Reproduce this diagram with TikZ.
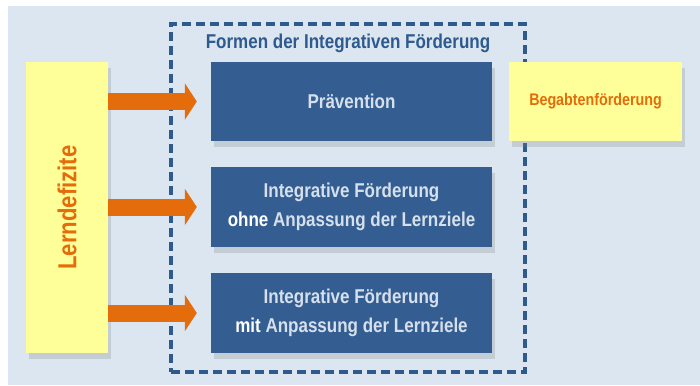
\documentclass[tikz,border=0pt]{standalone}
\usepackage{fontspec}
\setmainfont{Liberation Sans}[FakeStretch=0.85]
\usetikzlibrary{arrows.meta,shadows}
\definecolor{bg}{HTML}{DCE6F1}
\definecolor{boxblue}{HTML}{345E91}
\definecolor{dashblue}{HTML}{2E5A8E}
\definecolor{lightyel}{HTML}{FFFF99}
\definecolor{orng}{HTML}{E46C0A}
\definecolor{txtlight}{HTML}{D6E0EC}
\tikzset{
  shad/.style={drop shadow={opacity=0.25, shadow xshift=3pt, shadow yshift=-6pt}},
  yelbox/.style={fill=lightyel, draw=none, shad, inner sep=0pt},
  bluebox/.style={fill=boxblue, draw=none, shad, inner sep=0pt, minimum width=281pt,
     align=center, text=txtlight, font=\fontsize{20pt}{29pt}\selectfont\bfseries},
  dashbox/.style={draw=dashblue, line width=3.3pt, dash pattern=on 9pt off 5pt, inner sep=0pt},
  titletext/.style={text=dashblue, font=\fontsize{20pt}{24pt}\selectfont\bfseries, inner sep=0pt},
  bigarrow/.style={draw=orng, line width=17pt,
     -{Triangle[length=12pt,width=36pt]}, shorten >=14pt},
}
\begin{document}
\begin{tikzpicture}[x=1pt,y=-1pt]
\useasboundingbox (0,0) rectangle (700,385);
\fill[white] (0,0) rectangle (700,385);
\fill[bg] (8,6) rectangle (700,385);

\node[dashbox, minimum width=354pt, minimum height=348pt] (frame) at (348,198) {};
\node[titletext] (title) at (348,43) {Formen der Integrativen Förderung};

\node[yelbox, minimum width=82pt, minimum height=291pt] (lern) at (67,207.5) {};
\node[rotate=90, text=orng, font=\fontsize{26pt}{30pt}\selectfont\bfseries, inner sep=0pt] (lernlabel) at (lern.center) {Lerndefizite};

\node[bluebox, minimum height=79pt] (p1) at (351.5,101.5) {Prävention};
\node[bluebox, minimum height=80pt] (p2) at (351.5,207) {Integrative Förderung\\{\color{white}ohne} Anpassung der Lernziele};
\node[bluebox, minimum height=80pt] (p3) at (351.5,313) {Integrative Förderung\\{\color{white}mit} Anpassung der Lernziele};

\node[yelbox, minimum width=173pt, minimum height=79pt, text=orng, font=\fontsize{16.8pt}{20pt}\selectfont\bfseries] (begab) at (595.5,101.5) {Begabtenförderung};

\draw[bigarrow] (lern.east |- p1.west) -- (p1.west);
\draw[bigarrow] (lern.east |- p2.west) -- (p2.west);
\draw[bigarrow] (lern.east |- p3.west) -- (p3.west);
\end{tikzpicture}
\end{document}
